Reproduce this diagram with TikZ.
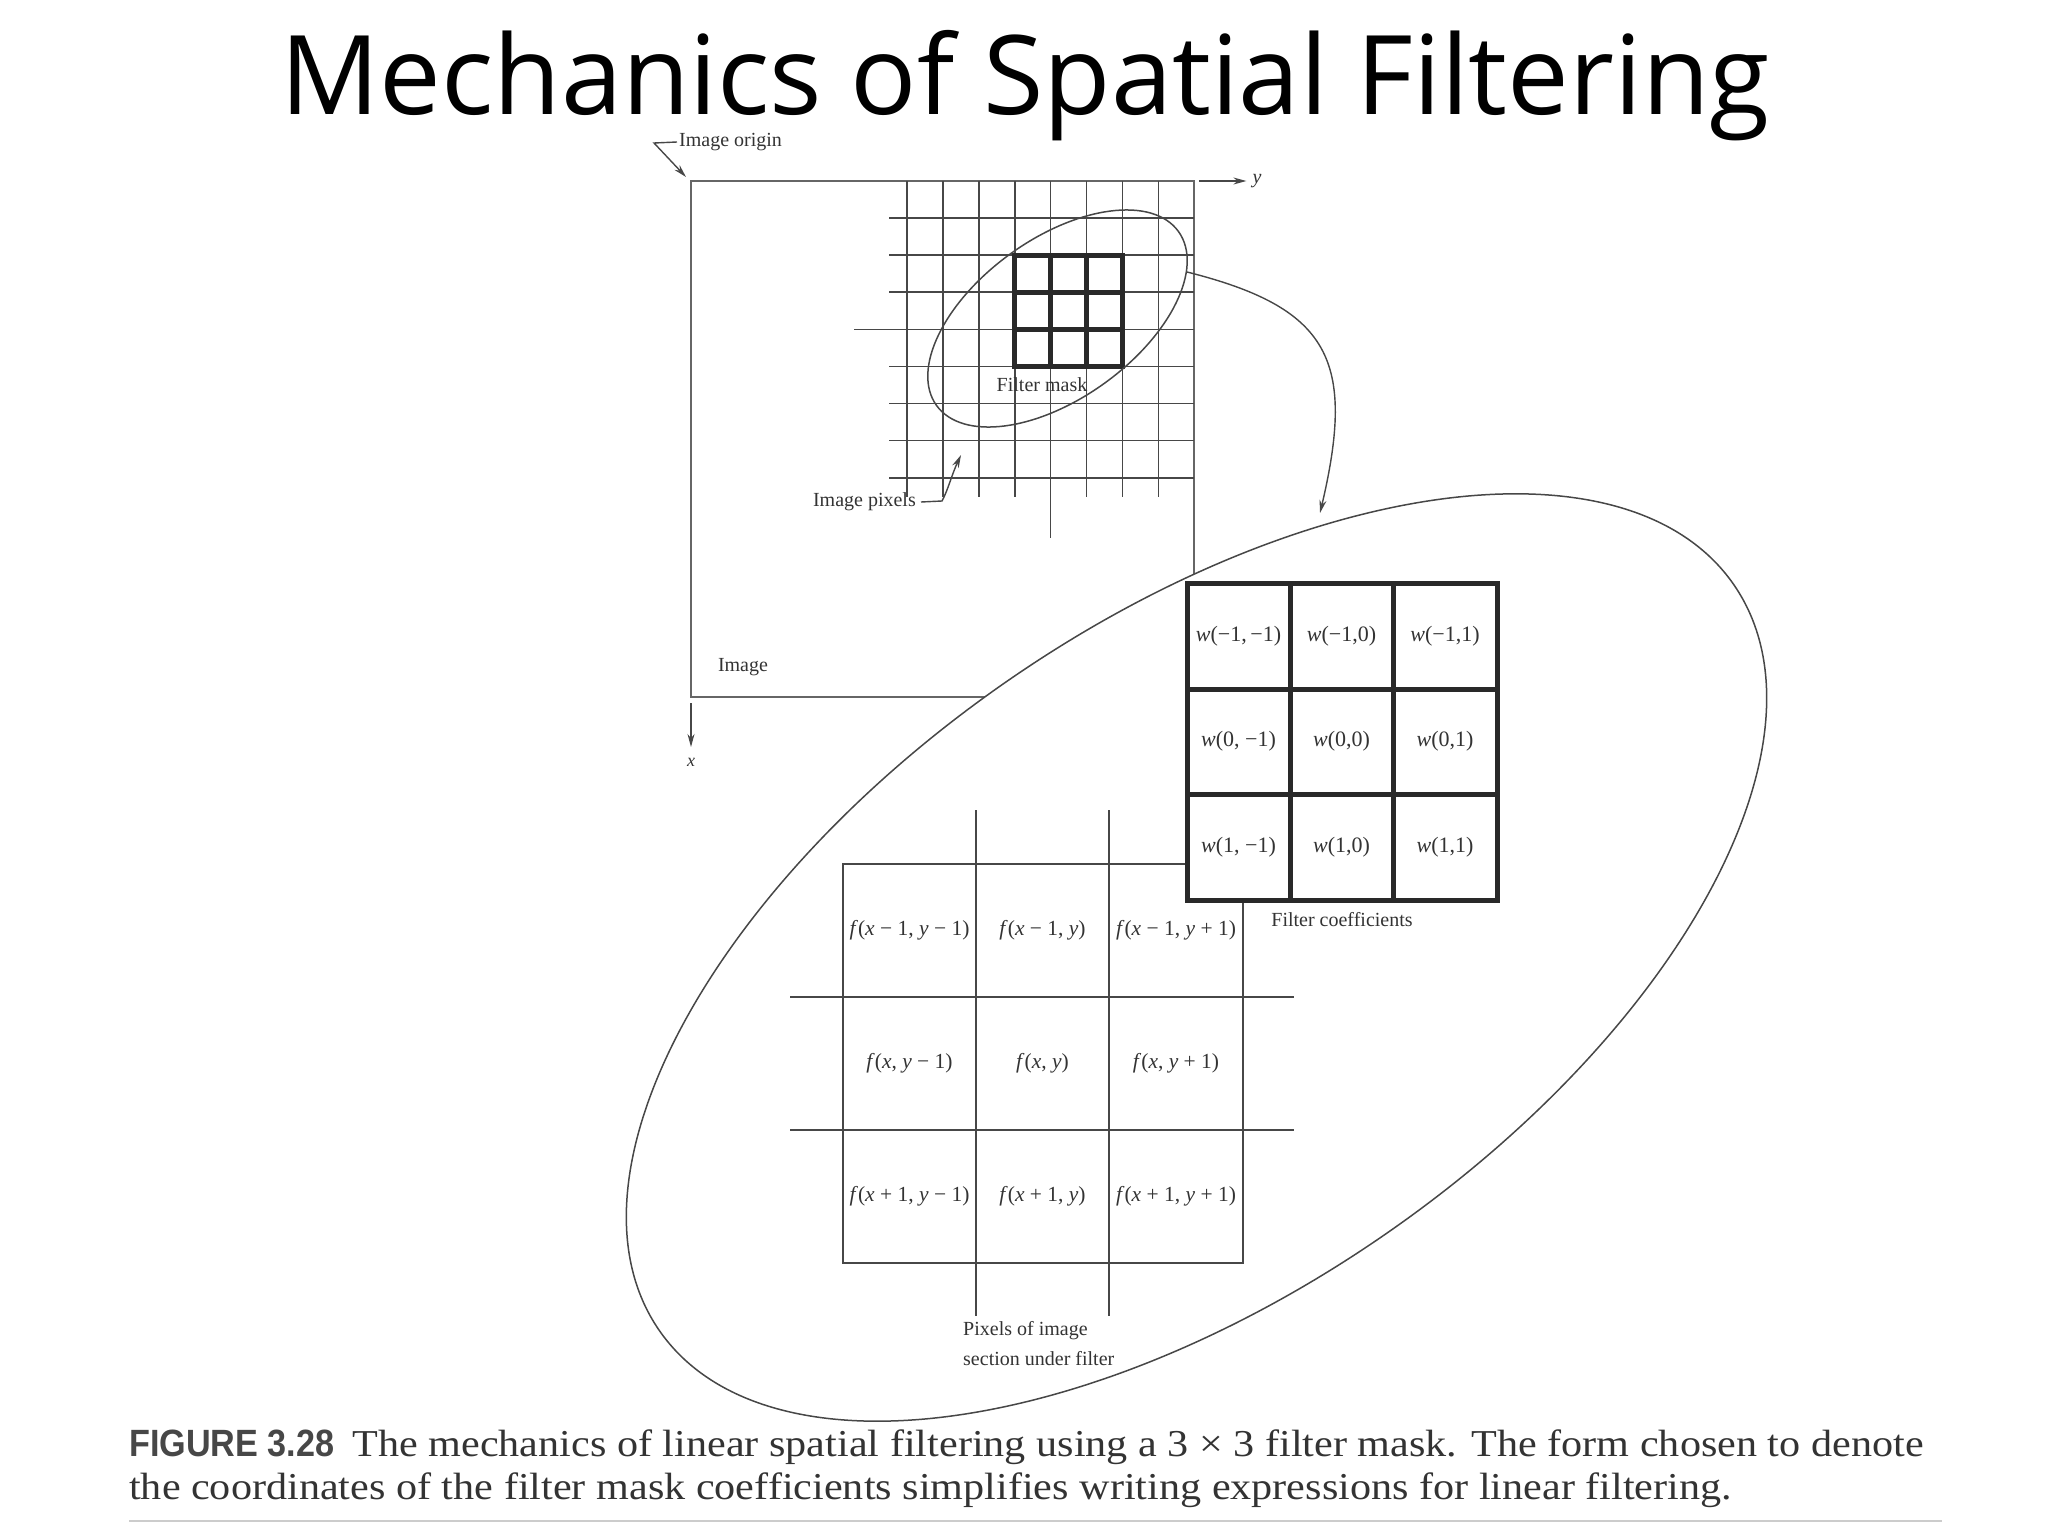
\documentclass[tikz,border=0pt]{standalone}
\usepackage{fontspec}
\setmainfont{Liberation Serif}
\newfontfamily\titlefont{Open Sans}
\newfontfamily\capsans[FakeStretch=0.9]{Liberation Sans}
\newfontfamily\capserif[FakeStretch=1.11]{Liberation Serif}
\usetikzlibrary{shapes.geometric,arrows.meta}
\definecolor{textcol}{gray}{0.2}
\definecolor{linecol}{gray}{0.28}
\definecolor{rectcol}{gray}{0.40}
\definecolor{maskcol}{gray}{0.16}
\newcommand{\iv}[1]{\textit{#1}}
\begin{document}
\begin{tikzpicture}[x=1pt,y=-1pt,
  thinline/.style={draw=linecol,line width=1.6pt},
  rectline/.style={draw=rectcol,line width=2.2pt},
  maskline/.style={draw=maskcol,line width=5pt},
  lbl/.style={font=\fontsize{20}{23}\selectfont,text=textcol,inner sep=0pt},
  fcell/.style={font=\fontsize{21.5}{24}\selectfont,text=textcol,inner sep=0pt},
  wcell/.style={font=\fontsize{22}{24}\selectfont,text=textcol,inner sep=0pt},
  arr/.style={-{Stealth[length=13pt,width=7pt]},draw=linecol,line width=1.4pt},
  capfont/.style={font=\capserif\fontsize{38}{44}\selectfont,text=black!80,inner sep=0pt}]
\useasboundingbox (0,0) rectangle (2048,1536);

% title
\node[anchor=base,font=\titlefont\fontsize{110}{130}\selectfont,inner sep=0pt,text depth=0pt] (title) at (1025,115) {Mechanics of Spatial Filtering};

% image rectangle
\draw[rectline] (691,181) rectangle (1194,697);

% image pixel grid
\foreach \i in {0,1,2,3,5,6,7}
  \draw[thinline] ({907+35.9*\i},181) -- ({907+35.9*\i},497);
\draw[thinline] (1050.6,181) -- (1050.6,538);
\foreach \j in {0,1,2,4,5,6,7}
  \draw[thinline] (889,{218+37.1*\j}) -- (1194,{218+37.1*\j});
\draw[thinline] (854,329.3) -- (1194,329.3);

% filter mask
\draw[maskline] (1014.7,255.1) rectangle (1122.4,366.4);
\draw[maskline] (1050.6,255.1) -- (1050.6,366.4);
\draw[maskline] (1086.5,255.1) -- (1086.5,366.4);
\draw[maskline] (1014.7,292.2) -- (1122.4,292.2);
\draw[maskline] (1014.7,329.3) -- (1122.4,329.3);

% small ellipse
\node[ellipse,draw=linecol,line width=1.5pt,minimum width=298pt,minimum height=160pt,inner sep=0pt,rotate=35.7] (smallell) at (1057.5,318.5) {};

% labels top part
\node[lbl,anchor=west] (originlbl) at (679,142) {Image origin};
\coordinate (corner) at (686,177);
\draw[arr] ([xshift=-2pt]originlbl.west) -- (654,143) -- (corner);

\node[lbl,anchor=east] (pixlbl) at (916,502) {Image pixels};
\coordinate (pixtip) at (961,455);
\draw[arr] ([xshift=5pt]pixlbl.east) -- (942,501) .. controls (948,490) and (952,474) .. (pixtip);

\node[lbl] (masklbl) at (1042,385) {Filter mask};
\node[lbl] (imglbl) at (743,667) {Image};

\coordinate (ystart) at (1199,181);
\node[lbl,font=\fontsize{20}{23}\selectfont\itshape] (ylbl) at (1257,181) {y};
\draw[arr] (ystart) -- ([xshift=-6pt]ylbl.west);

\coordinate (xstart) at (691,703);
\coordinate (xtip) at (691,747);
\node[lbl,font=\fontsize{18}{23}\selectfont\itshape] (xlbl) at (691,762) {x};
\draw[arr] (xstart) -- (xtip);

% connector from small ellipse
\coordinate (cstart) at (1187,272);
\coordinate (ctip) at (1320,513);
\draw[arr] (cstart) .. controls (1330,308) and (1356,360) .. (ctip);

% big ellipse
\node[ellipse,draw=linecol,fill=white,line width=1.5pt,minimum width=1308pt,minimum height=670pt,inner sep=0pt,rotate=34.8] (bigell) at (1196.5,957.5) {};

% image section under filter
\draw[thinline] (843,864) rectangle (1243,1263);
\draw[thinline] (976,810) -- (976,1316);
\draw[thinline] (1109,810) -- (1109,1316);
\draw[thinline] (790,997) -- (1294,997);
\draw[thinline] (790,1130) -- (1294,1130);

\node[fcell] (f11) at (909.5,930.5) {\iv{f}(\iv{x} − 1, \iv{y} − 1)};
\node[fcell] (f12) at (1042.5,930.5) {\iv{f}(\iv{x} − 1, \iv{y})};
\node[fcell] (f13) at (1176,930.5) {\iv{f}(\iv{x} − 1, \iv{y} + 1)};
\node[fcell] (f21) at (909.5,1063.5) {\iv{f}(\iv{x}, \iv{y} − 1)};
\node[fcell] (f22) at (1042.5,1063.5) {\iv{f}(\iv{x}, \iv{y})};
\node[fcell] (f23) at (1176,1063.5) {\iv{f}(\iv{x}, \iv{y} + 1)};
\node[fcell] (f31) at (909.5,1196.5) {\iv{f}(\iv{x} + 1, \iv{y} − 1)};
\node[fcell] (f32) at (1042.5,1196.5) {\iv{f}(\iv{x} + 1, \iv{y})};
\node[fcell] (f33) at (1176,1196.5) {\iv{f}(\iv{x} + 1, \iv{y} + 1)};

% filter coefficients
\fill[white] (1187,583) rectangle (1497,900);
\draw[maskline] (1187,583) rectangle (1497,900);
\draw[maskline] (1290,583) -- (1290,900);
\draw[maskline] (1393,583) -- (1393,900);
\draw[maskline] (1187,689) -- (1497,689);
\draw[maskline] (1187,794) -- (1497,794);

\node[wcell] (w11) at (1238.5,636) {\iv{w}(−1,\,−1)};
\node[wcell] (w12) at (1341.5,636) {\iv{w}(−1,0)};
\node[wcell] (w13) at (1445,636) {\iv{w}(−1,1)};
\node[wcell] (w21) at (1238.5,741) {\iv{w}(0, −1)};
\node[wcell] (w22) at (1341.5,741) {\iv{w}(0,0)};
\node[wcell] (w23) at (1445,741) {\iv{w}(0,1)};
\node[wcell] (w31) at (1238.5,847) {\iv{w}(1, −1)};
\node[wcell] (w32) at (1341.5,847) {\iv{w}(1,0)};
\node[wcell] (w33) at (1445,847) {\iv{w}(1,1)};

\node[lbl] (coeflbl) at (1342,920) {Filter coefficients};
\node[lbl,anchor=west] (sec1) at (963,1331) {Pixels of image};
\node[lbl,anchor=west] (sec2) at (963,1359) {section under filter};

% caption
\node[capfont,anchor=base west] (cap1) at (129,1456) {{\capsans\bfseries\color{black!72}FIGURE 3.28}\hspace{18pt}The mechanics of linear spatial filtering using a 3 × 3 filter mask. The form chosen to denote};
\node[capfont,anchor=base west] (cap2) at (129,1499) {the coordinates of the filter mask coefficients simplifies writing expressions for linear filtering.};
\draw[draw=black!20,line width=2.5pt] (129,1521) -- (1942,1521);
\end{tikzpicture}
\end{document}
